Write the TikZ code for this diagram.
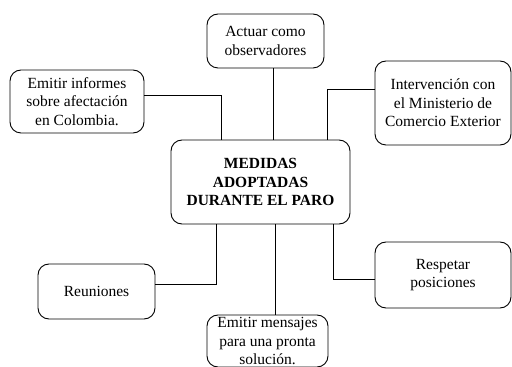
\documentclass[tikz,border=0pt]{standalone}
\usepackage{fontspec}
\setmainfont{Liberation Serif}
\usepackage{tikz}

\begin{document}
\begin{tikzpicture}[x=1pt, y=1pt,
    caja/.style={draw, line width=0.9pt, rounded corners=11pt, align=center,
      inner sep=0pt, font=\fontsize{15.5}{18.5}\selectfont},
    enlace/.style={line width=0.9pt}]
  \useasboundingbox (0,0) rectangle (512,367);
  \node[caja, minimum width=179, minimum height=84,
    font=\fontsize{15.5}{18.5}\selectfont\bfseries] (centro) at (260.5, 185)
    {MEDIDAS\\ADOPTADAS\\DURANTE EL PARO};
  \node[caja, minimum width=117, minimum height=54] (actuar) at (265.5, 326)
    {Actuar como\\observadores};
  \node[caja, minimum width=134, minimum height=63] (informes) at (77, 265.5)
    {Emitir informes\\sobre afectación\\en Colombia.};
  \node[caja, minimum width=136, minimum height=84] (intervencion) at (443, 264)
    {Intervención con\\el Ministerio de\\Comercio Exterior};
  \node[caja, minimum width=117, minimum height=55] (reuniones) at (96.5, 75.5)
    {Reuniones};
  \node[caja, minimum width=121, minimum height=52] (mensajes) at (267.5, 26)
    {Emitir mensajes\\para una pronta\\solución.};
  \node[caja, minimum width=136, minimum height=66] (respetar) at (443, 92)
    {Respetar\\posiciones};
  % conectores
  \coordinate (c1) at ([xshift=7.5]actuar.south);
  \draw[enlace] (c1) -- (centro.north -| c1);
  \draw[enlace] ([yshift=6]informes.east) -| ([xshift=-38.8]centro.north);
  \draw[enlace] ([yshift=14]intervencion.west) -| ([xshift=67.2]centro.north);
  \draw[enlace] ([yshift=7.5]reuniones.east) -| ([xshift=-44.5]centro.south);
  \coordinate (c2) at ([xshift=8.2]mensajes.north);
  \draw[enlace] (c2) -- (centro.south -| c2);
  \draw[enlace] ([yshift=-4]respetar.west) -| ([xshift=72.8]centro.south);
\end{tikzpicture}
\end{document}
